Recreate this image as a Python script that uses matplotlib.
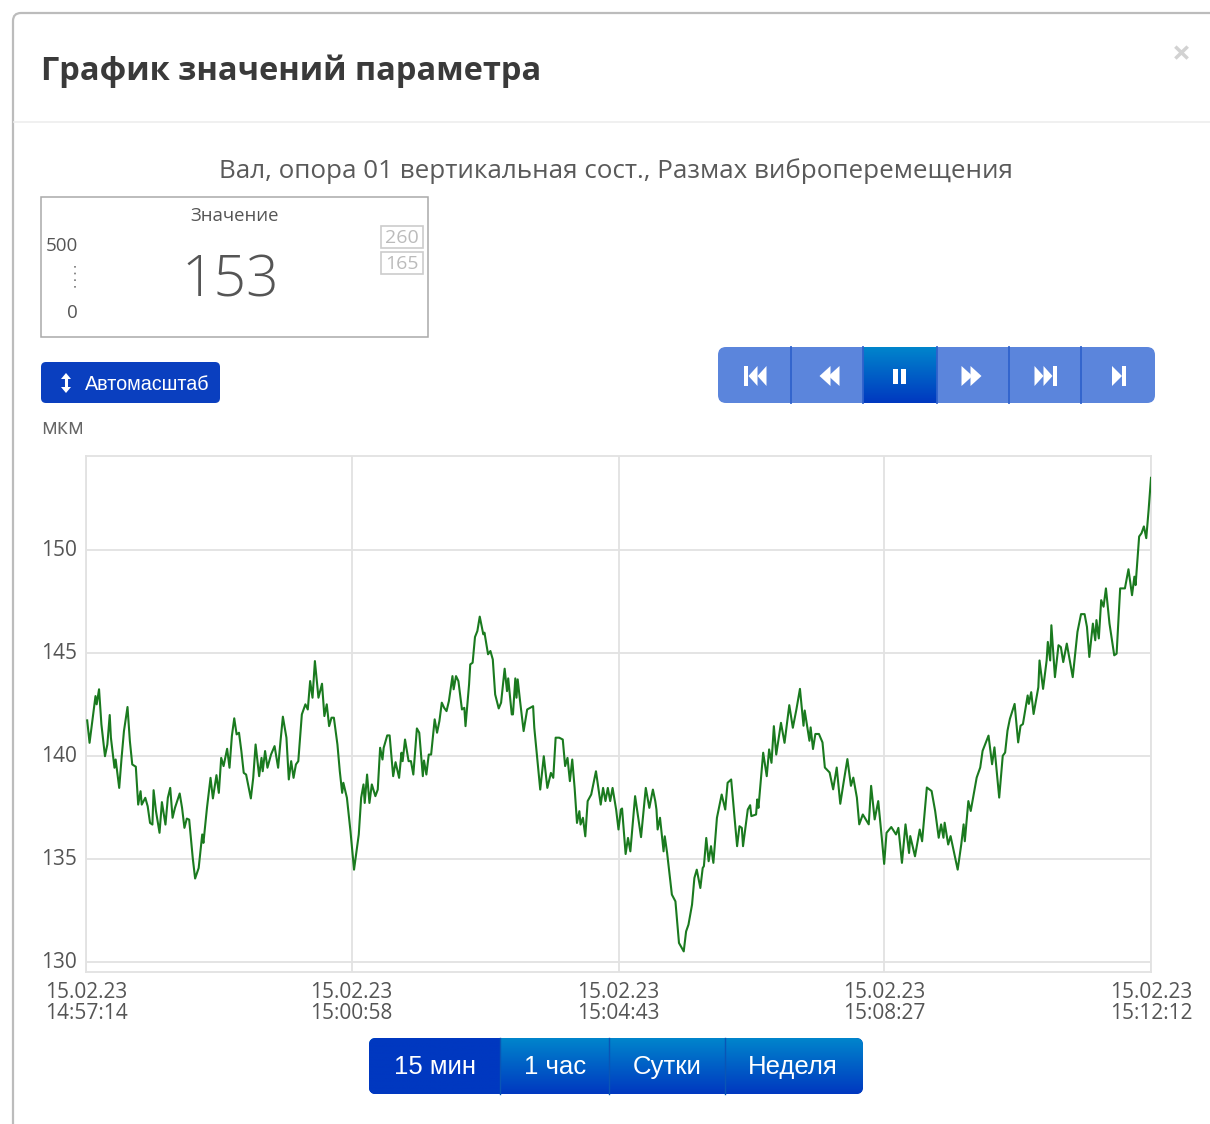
import numpy as np
import pandas as pd
import matplotlib
matplotlib.use('Agg')
import matplotlib.pyplot as plt
from matplotlib.patches import FancyBboxPatch, Rectangle, Polygon
from matplotlib.transforms import ScaledTranslation

plt.rcParams['font.family'] = ['Open Sans', 'DejaVu Sans']

# Data
time_start = pd.Timestamp('2023-02-15 14:57:14')
tick_seconds = [0, 224, 449, 673, 898]
y_ticks = [130, 135, 140, 145, 150]

elapsed_s = [
    1, 3, 6, 8, 9, 11, 13, 16, 18, 20, 21, 24, 25, 28, 30, 32, 35, 37, 39, 42, 44, 46, 47, 50, 52, 54, 56, 57, 59, 62,
    64, 67, 69, 71, 73, 75, 79, 81, 83, 85, 87, 90, 92, 95, 98, 99, 102, 105, 107, 110, 112, 114, 116, 119, 121, 123,
    125, 127, 129, 131, 133, 135, 139, 141, 143, 146, 148, 149, 151, 153, 156, 159, 162, 164, 166, 169, 171, 173, 175,
    177, 179, 182, 185, 187, 189, 191, 193, 196, 199, 201, 203, 205, 207, 209, 212, 214, 216, 217, 220, 223, 226, 230,
    232, 234, 235, 237, 239, 241, 244, 246, 248, 250, 251, 254, 256, 259, 261, 264, 266, 267, 269, 272, 274, 276, 279,
    281, 284, 285, 287, 289, 291, 294, 296, 298, 300, 302, 304, 306, 309, 310, 312, 314, 317, 319, 320, 323, 324, 326,
    328, 330, 332, 335, 336, 339, 341, 343, 345, 348, 350, 353, 355, 356, 359, 360, 362, 363, 364, 366, 369, 372, 377,
    378, 383, 386, 389, 392, 394, 396, 399, 402, 404, 406, 408, 410, 412, 414, 416, 417, 419, 421, 423, 426, 430, 434,
    436, 438, 440, 442, 444, 447, 449, 451, 452, 455, 457, 459, 463, 468, 472, 475, 478, 480, 481, 482, 484, 487, 488,
    490, 494, 497, 500, 504, 506, 508, 511, 513, 515, 518, 520, 521, 523, 525, 527, 529, 532, 536, 539, 541, 544, 549,
    551, 553, 554, 558, 560, 561, 565, 566, 567, 571, 574, 576, 578, 580, 582, 586, 589, 593, 596, 599, 602, 605, 606,
    608, 610, 611, 613, 615, 618, 621, 623, 627, 630, 633, 636, 639, 642, 645, 647, 650, 652, 655, 660, 662, 665, 668,
    671, 673, 675, 679, 683, 685, 688, 691, 694, 695, 699, 703, 705, 709, 713, 716, 719, 721, 723, 724, 727, 729, 735,
    738, 740, 741, 744, 746, 751, 754, 756, 761, 764, 766, 770, 773, 775, 777, 779, 783, 786, 788, 790, 794, 795, 797,
    799, 803, 804, 807, 810, 811, 813, 814, 817, 820, 822, 824, 827, 832, 836, 839, 842, 844, 846, 849, 851, 852, 854,
    856, 858, 860, 863, 867, 869, 872, 876, 879, 882, 884, 885, 888, 890, 892, 894, 896, 898,
]
values = [
    141.72, 140.63, 142.01, 142.90, 142.50, 143.23, 141.52, 139.98, 140.55, 141.98, 140.88, 139.42, 139.82, 138.44,
    139.90, 141.20, 142.37, 140.71, 139.58, 139.47, 137.63, 138.28, 137.63, 137.96, 137.55, 136.74, 136.66, 138.33,
    137.31, 136.26, 137.75, 136.66, 137.96, 138.44, 136.99, 137.47, 138.17, 137.47, 136.50, 136.95, 136.90, 135.04,
    134.04, 134.55, 136.18, 135.77, 137.47, 138.93, 137.93, 139.06, 138.20, 139.90, 139.50, 140.34, 139.42, 140.96,
    141.82, 141.04, 141.12, 140.23, 139.17, 139.09, 137.93, 138.93, 140.55, 139.01, 139.90, 139.25, 140.23, 139.42,
    140.06, 140.47, 139.42, 140.71, 141.90, 140.88, 138.85, 139.74, 138.93, 139.58, 139.74, 142.01, 142.50, 142.25,
    143.63, 142.82, 144.60, 142.82, 143.50, 141.93, 142.50, 141.44, 141.85, 141.85, 140.55, 139.25, 138.20, 138.69,
    137.96, 136.34, 134.47, 136.18, 137.96, 138.61, 137.71, 139.09, 137.71, 138.61, 138.04, 138.36, 140.39, 139.82,
    140.39, 140.99, 140.99, 139.01, 139.69, 138.93, 140.15, 139.74, 140.79, 139.74, 139.74, 139.09, 141.33, 141.12,
    139.01, 139.77, 139.09, 140.06, 140.06, 141.77, 141.12, 141.69, 142.58, 142.33, 142.17, 142.66, 143.87, 143.23,
    143.87, 143.63, 142.25, 142.33, 141.44, 143.47, 144.44, 144.52, 145.77, 146.06, 146.76, 145.90, 145.98, 144.93,
    145.09, 144.68, 142.98, 142.30, 142.58, 144.23, 143.14, 143.76, 142.01, 142.01, 143.76, 142.82, 143.71, 142.66,
    141.20, 142.25, 142.41, 141.36, 138.36, 139.98, 138.44, 139.17, 138.93, 140.88, 140.88, 140.79, 139.50, 139.90,
    138.77, 139.82, 138.44, 136.74, 137.31, 136.66, 136.99, 136.09, 137.80, 138.12, 139.25, 137.63, 138.44, 137.80,
    138.44, 137.80, 138.44, 137.39, 136.42, 137.39, 137.44, 135.23, 136.01, 135.36, 138.04, 136.05, 138.44, 137.47,
    138.36, 137.80, 137.39, 136.42, 136.99, 135.36, 136.09, 135.28, 133.26, 132.93, 130.91, 130.50, 131.47, 131.80,
    132.77, 134.07, 134.47, 133.58, 134.55, 134.64, 136.01, 134.88, 135.61, 134.80, 136.99, 138.12, 137.39, 138.69,
    138.85, 135.61, 136.58, 136.50, 135.61, 137.39, 137.60, 137.07, 137.15, 137.88, 137.47, 140.15, 139.01, 140.31,
    139.66, 141.44, 140.06, 141.60, 140.63, 142.46, 141.36, 142.25, 143.25, 141.46, 142.20, 141.46, 140.73, 141.38,
    140.33, 141.06, 141.06, 140.65, 139.43, 139.19, 138.37, 139.43, 137.67, 138.78, 139.84, 138.54, 138.94, 137.97,
    136.67, 137.15, 136.67, 138.54, 136.91, 137.80, 136.02, 134.75, 136.26, 136.54, 136.18, 136.50, 134.80, 136.67,
    135.28, 136.10, 135.12, 136.42, 135.85, 138.46, 138.29, 137.32, 136.02, 136.67, 136.02, 136.75, 135.69, 136.10,
    134.47, 135.69, 136.67, 135.85, 137.80, 137.32, 138.94, 139.43, 140.24, 140.98, 139.59, 140.41, 137.97, 140.00,
    140.16, 141.22, 141.79, 142.52, 140.65, 141.46, 141.54, 142.93, 142.52, 143.09, 142.03, 143.33, 144.63, 143.25,
    144.63, 145.53, 144.63, 146.34, 143.82, 145.37, 145.28, 144.55, 145.45, 143.82, 146.02, 146.88, 146.88, 146.26,
    144.80, 146.42, 145.61, 146.59, 145.70, 147.56, 147.24, 148.13, 146.42, 144.88, 144.96, 148.13, 148.13, 149.06,
    147.80, 148.70, 148.29, 150.65, 150.81, 151.14, 150.57, 151.95, 153.50,
]
range_buttons = ['15 мин', '1 час', 'Сутки', 'Неделя']

W, H = 1210, 1124
fig = plt.figure(figsize=(W / 100, H / 100), dpi=100, facecolor='white')

# Dialog layer, in pixels
ui = fig.add_axes([0, 0, 1, 1])
ui.set_axis_off()


def gradient(x0, y0, x1, y1, top, bottom, clip=None):
    c0 = np.array(matplotlib.colors.to_rgb(top))
    c1 = np.array(matplotlib.colors.to_rgb(bottom))
    t = np.linspace(0, 1, 64)[:, None, None]
    img = ui.imshow(c0 + (c1 - c0) * t, extent=(x0, x1, y1, y0), aspect='auto', zorder=2)
    if clip is not None:
        img.set_clip_path(clip)


def rounded(x0, y0, x1, y1, color, r=5, zorder=1):
    p = FancyBboxPatch((x0 + r, y0 + r), x1 - x0 - 2 * r, y1 - y0 - 2 * r, boxstyle=f'round,pad={r},rounding_size={r}',
                       fc=color, ec='none', zorder=zorder)
    ui.add_patch(p)
    return p


def triangle(cx, cy, w, h, direction):
    pts = [(cx - direction * w / 2, cy - h / 2), (cx + direction * w / 2, cy), (cx - direction * w / 2, cy + h / 2)]
    ui.add_patch(Polygon(pts, fc='white', ec='none', zorder=4))


def bar(x0, cy, w, h):
    ui.add_patch(Rectangle((x0, cy - h / 2), w, h, fc='white', ec='none', zorder=4))


# Modal frame
frame = FancyBboxPatch((18, 18), 1300, 1300, boxstyle='round,pad=5,rounding_size=8', fc='white', ec='#bcbcbc', lw=1.6)
ui.add_patch(frame)
ui.plot([14, 1210], [122, 122], color='#eeeeee', lw=1.2)

ui.text(41, 71, 'График значений параметра', fontsize=23.5, fontweight='bold', color='#3a3a3a', va='center')
ui.text(1181, 56, '×', fontsize=24, fontweight='bold', color='#d2d2d2', ha='center', va='center')
ui.text(616, 171, 'Вал, опора 01 вертикальная сост., Размах виброперемещения', fontsize=18.7, color='#5a5a5a',
        ha='center', va='center')

# Value box
ui.add_patch(Rectangle((41, 197), 387, 140, fc='white', ec='#aaaaaa', lw=1.1))
ui.text(235, 216, 'Значение', fontsize=13.3, color='#555555', ha='center', va='center')
ui.text(78, 246, '500', fontsize=13.5, color='#555555', ha='right', va='center')
ui.text(78, 313, '0', fontsize=13.5, color='#555555', ha='right', va='center')
ui.plot([75, 75], [266, 290], color='#777777', lw=1.2, ls=(0, (1, 3)))
ui.text(230, 282, '153', fontsize=41, color='#555555', ha='center', va='center', fontweight='light')
for box_y, limit in [(226, '260'), (252, '165')]:
    ui.add_patch(Rectangle((381, box_y), 42, 22, fc='white', ec='#cccccc', lw=1.2))
    ui.text(402, box_y + 12, limit, fontsize=14, color='#bbbbbb', ha='center', va='center')

# Autoscale button
rounded(41, 362, 220, 403, '#0a3fbf', r=5)
ui.plot([66, 66], [378, 388], color='white', lw=2.2, zorder=4)
ui.add_patch(Polygon([(61, 379), (66, 373), (71, 379)], fc='white', ec='none', zorder=4))
ui.add_patch(Polygon([(61, 387), (66, 393), (71, 387)], fc='white', ec='none', zorder=4))
ui.text(85, 384, 'Автомасштаб', fontsize=14.2, color='white', va='center', fontfamily=['Liberation Sans'])

# Player buttons
player = rounded(718, 347, 1155, 403, '#5b85dc', r=8)
gradient(863, 347, 937, 403, '#0085cc', '#0038c0', clip=player)
for x in [791, 863, 937, 1009, 1081]:
    ui.plot([x, x], [347, 403], color='#2f62cc', lw=1.3, zorder=3)
cy = 376
bar(744, cy, 3.5, 20)
triangle(753, cy, 9, 20, -1)
triangle(762, cy, 9, 20, -1)
triangle(825, cy, 11, 20, -1)
triangle(834, cy, 11, 20, -1)
bar(893, cy, 5, 15)
bar(901, cy, 5, 15)
triangle(967, cy, 11, 20, 1)
triangle(976, cy, 11, 20, 1)
triangle(1039, cy, 9, 20, 1)
triangle(1048, cy, 9, 20, 1)
bar(1053, cy, 3.5, 20)
triangle(1117, cy, 10, 20, 1)
bar(1122, cy, 3.5, 20)

ui.text(41, 429, 'мкм', fontsize=15.5, color='#666666', va='center')

# Range buttons
group = rounded(369, 1038, 863, 1094, '#0038c0', r=7)
gradient(369, 1038, 863, 1094, '#0085cc', '#0038c0', clip=group)
gradient(369, 1038, 500, 1094, '#0038c0', '#0038c0', clip=group)
for x in [500, 609, 725]:
    ui.plot([x, x], [1038, 1094], color='#0a55b5', lw=1, zorder=3)
for cx, label in zip([435, 555, 667, 793], range_buttons):
    ui.text(cx, 1067, label, fontsize=18.5, color='white', ha='center', va='center', zorder=5,
            fontfamily=['Liberation Sans'])

ui.set_xlim(0, W)
ui.set_ylim(H, 0)

# Chart
ax = fig.add_axes([86 / W, 1 - 972 / H, 1065 / W, 516 / H], facecolor='none')
ax.plot(elapsed_s, values, color='#1a7a1f', lw=1.5, solid_joinstyle='round', zorder=3)
ax.set_xlim(0, 898)
ax.set_ylim(129.5, 154.56)
ax.set_xticks(tick_seconds)
tick_times = [time_start + pd.Timedelta(seconds=s) for s in tick_seconds]
ax.set_xticklabels([t.strftime('%d.%m.%y\n%H:%M:%S') for t in tick_times], linespacing=0.95)
ax.set_yticks(y_ticks)
ax.tick_params(axis='both', length=0, labelsize=15, labelcolor='#555555')
ax.tick_params(axis='x', pad=7.5)
ax.tick_params(axis='y', pad=6.5)
ax.grid(True, color='#e2e2e2', lw=1.3)
ax.set_axisbelow(True)
for s in ax.spines.values():
    s.set_color('#e2e2e2')
    s.set_linewidth(1.3)

# y labels sit a little above their gridlines
for lab in ax.get_yticklabels():
    lab.set_transform(lab.get_transform() + ScaledTranslation(0, 1.5 / 72, fig.dpi_scale_trans))

fig.savefig('out.png', dpi=100)
